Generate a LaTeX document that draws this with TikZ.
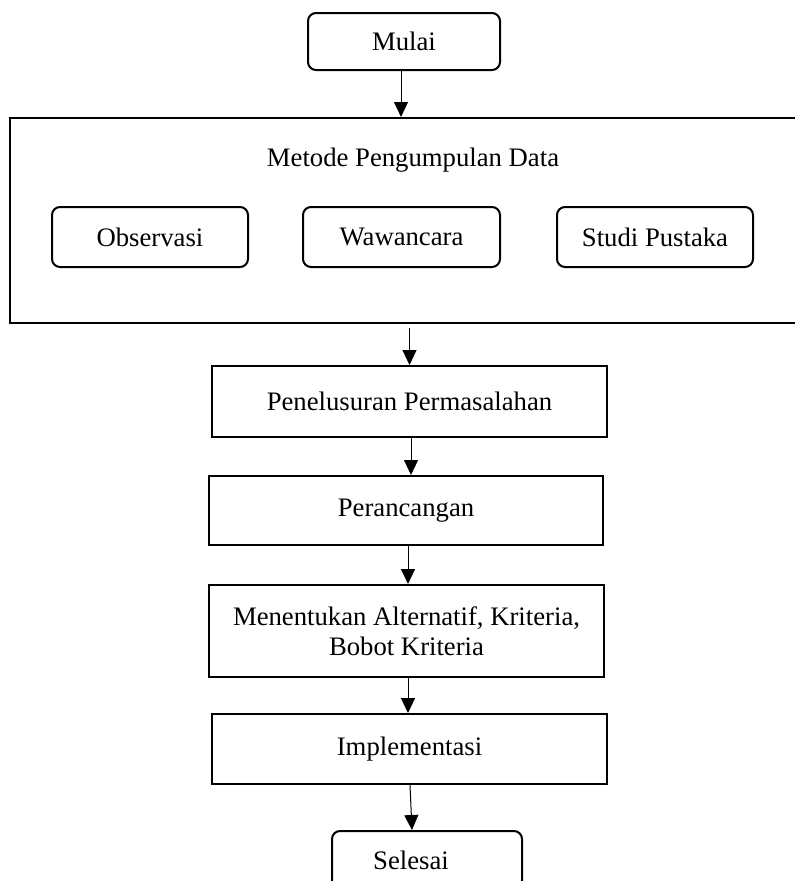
\documentclass[tikz,border=0pt]{standalone}
\usepackage{fontspec}
\setmainfont{Liberation Serif}
\usetikzlibrary{arrows.meta}
\begin{document}
\begin{tikzpicture}[x=1pt,y=-1pt,
  txt/.style={font=\fontsize{26.7}{30}\selectfont, inner sep=0pt, align=center},
  rbox/.style={txt, draw, line width=2pt, rounded corners=8pt},
  sbox/.style={txt, draw, line width=2pt},
  arr/.style={line width=1pt, -{Triangle[length=15pt,width=14pt]}}]
\useasboundingbox (0,0) rectangle (795,881);
\node[rbox, minimum width=192pt, minimum height=57pt] (mulai) at (404,41.5) {Mulai};
\node[sbox, minimum width=787pt, minimum height=205pt] (big) at (403.5,220.5) {};
\node[txt] (metode) at (413,160) {Metode Pengumpulan Data};
\node[rbox, minimum width=196pt, minimum height=60pt] (obs) at (150,237) {Observasi};
\node[rbox, minimum width=197pt, minimum height=60pt] (waw) at (401.5,237) {Wawancara};
\node[rbox, minimum width=196pt, minimum height=60pt] (stu) at (655,237) {Studi Pustaka};
\node[sbox, minimum width=395pt, minimum height=71pt] (pen) at (409.5,401.5) {Penelusuran Permasalahan};
\node[sbox, minimum width=394pt, minimum height=69pt] (per) at (406,510.5) {Perancangan};
\node[sbox, minimum width=395pt, minimum height=92pt, font=\fontsize{26.7}{30}\selectfont] (men) at (406.5,631) {Menentukan Alternatif, Kriteria,\\Bobot Kriteria};
\node[sbox, minimum width=395pt, minimum height=70pt] (imp) at (409.5,749) {Implementasi};
\node[rbox, minimum width=190pt, minimum height=57pt] (sel) at (427,859.5) {};
\node[txt] (seltxt) at (411,860) {Selesai};
\draw[arr] ([xshift=-3pt]mulai.south) -- ([xshift=-3pt]mulai.south |- big.north);
\draw[arr] ([shift={(6pt,-4pt)}]big.south) -- (pen.north);
\draw[arr] ([xshift=1.5pt]pen.south) -- ([xshift=1.5pt]pen.south |- per.north);
\draw[arr] ([xshift=2pt]per.south) -- ([xshift=2pt]per.south |- men.north);
\draw[arr] ([xshift=1.5pt]men.south) -- ([xshift=1.5pt]men.south |- imp.north);
\draw[arr] ([xshift=0.5pt]imp.south) -- ([xshift=-15pt]sel.north);
\end{tikzpicture}
\end{document}
